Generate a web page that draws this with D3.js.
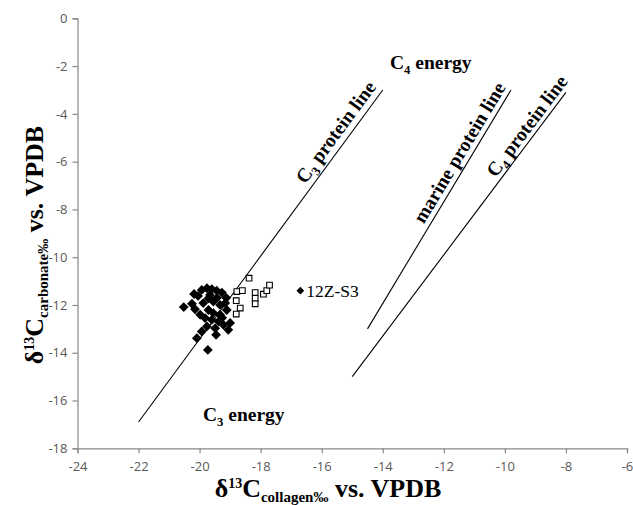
<!DOCTYPE html>
<html><head><meta charset="utf-8">
<script src="https://cdn.jsdelivr.net/npm/d3@7"></script>
<style>body{margin:0;background:#fff}svg{display:block}</style>
</head><body>
<svg id="c" width="633" height="505"></svg>
<script>
// ---- data ----
const xTicks = [-24,-22,-20,-18,-16,-14,-12,-10,-8,-6];
const yTicks = [0,-2,-4,-6,-8,-10,-12,-14,-16,-18];
// filled diamonds (collagen, carbonate)
const diamondX = [-20.52,-20.18,-20.15,-19.93,-19.76,-19.60,-19.44,-19.27,-19.71,-19.88,-19.55,-19.33,-19.16,-19.11,-19.71,-19.55,-19.33,-19.82,-19.60,-19.38,-19.76,-19.49,-19.22,-19.06,-19.93,-20.09,-19.46,-19.73,-20.05,-19.66,-19.43,-19.98,-19.26,-19.00,-20.25,-19.13];
const diamondY = [-12.09,-11.54,-12.18,-11.37,-11.30,-11.34,-11.40,-11.48,-11.72,-11.92,-11.86,-12.00,-11.92,-12.21,-12.21,-12.34,-12.41,-12.55,-12.62,-12.69,-12.90,-12.97,-12.83,-13.04,-13.11,-13.39,-13.25,-13.88,-11.62,-11.58,-11.70,-12.41,-12.54,-12.75,-11.95,-11.70];
// open squares
const squareX = [-18.38,-18.78,-18.60,-18.18,-18.18,-18.18,-17.91,-17.80,-17.71,-18.80,-18.67,-18.80];
const squareY = [-10.88,-11.44,-11.40,-11.48,-11.72,-11.95,-11.55,-11.40,-11.17,-11.82,-12.13,-12.38];
// outlier
const outlierName = "12Z-S3";
const outlierX = [-16.70];
const outlierY = [-11.40];
// reference lines
const lineNames = ["C3 protein line","marine protein line","C4 protein line"];
const lineX1 = [-22.0,-14.5,-15.0];
const lineY1 = [-16.9,-13.0,-15.0];
const lineX2 = [-14.0,-9.8,-8.0];
const lineY2 = [-3.0,-3.0,-3.1];

// ---- drawing ----
const svg = d3.select("#c");
const x = d3.scaleLinear().domain([-24,-6]).range([77.5,627]);
const y = d3.scaleLinear().domain([-18,0]).range([448.3,18.3]);
const axisCol = "#898989", tickCol = "#595959";
const serif = "'Liberation Serif','Times New Roman',serif";

const gx = svg.append("g").attr("transform",`translate(0,${y(-18)})`)
  .call(d3.axisBottom(x).tickValues(xTicks).tickSize(5).tickPadding(8).tickFormat(d=>String(d)));
const gy = svg.append("g").attr("transform",`translate(${x(-24)},0)`)
  .call(d3.axisLeft(y).tickValues(yTicks).tickSize(5).tickPadding(5).tickFormat(d=>String(d)));
[gx,gy].forEach(g=>{
  g.select(".domain").attr("stroke",axisCol).attr("stroke-width",1.2);
  g.selectAll(".tick line").attr("stroke",axisCol).attr("stroke-width",1.2);
  g.selectAll(".tick text").attr("fill",tickCol).style("font-family","'Open Sans',Arial,sans-serif").style("font-size","13px");
});

// reference lines
const lines = lineNames.map((n,i)=>({n,x1:lineX1[i],y1:lineY1[i],x2:lineX2[i],y2:lineY2[i]}));
svg.append("g").selectAll("line").data(lines).join("line")
  .attr("x1",d=>x(d.x1)).attr("y1",d=>y(d.y1)).attr("x2",d=>x(d.x2)).attr("y2",d=>y(d.y2))
  .attr("stroke","#000").attr("stroke-width",1.1);

// line labels (rotated)
const lblPos = [[341,136],[465,156],[532,130]];
const lblG = svg.append("g").style("font-family",serif).style("font-weight","bold").style("font-size","19.5px");
lines.forEach((d,i)=>{
  const ang = Math.atan2(y(d.y2)-y(d.y1), x(d.x2)-x(d.x1))*180/Math.PI;
  const t = lblG.append("text").attr("text-anchor","middle")
    .attr("transform",`translate(${lblPos[i][0]},${lblPos[i][1]}) rotate(${ang})`);
  if(d.n.startsWith("C3")||d.n.startsWith("C4")){
    t.append("tspan").text("C");
    t.append("tspan").attr("dy",5).style("font-size","13px").text(d.n[1]);
    t.append("tspan").attr("dy",-5).text(d.n.slice(2));
  } else t.text(d.n);
});

// energy labels
function subLabel(px,py,main,sub,rest,size){
  const t = svg.append("text").attr("x",px).attr("y",py)
    .style("font-family",serif).style("font-weight","bold").style("font-size",size+"px");
  t.append("tspan").text(main);
  t.append("tspan").attr("dy",5).style("font-size",(size*0.65)+"px").text(sub);
  t.append("tspan").attr("dy",-5).text(rest);
  return t;
}
subLabel(390,69,"C","4"," energy",19.5);
subLabel(203,421,"C","3"," energy",19.5);

// data marks
const diamonds = diamondX.map((v,i)=>({x:v,y:diamondY[i]}));
const squares = squareX.map((v,i)=>({x:v,y:squareY[i]}));
const diamondPath = d3.symbol().type(d3.symbolSquare).size(48)();
const squarePath = d3.symbol().type(d3.symbolSquare).size(32)();
svg.append("g").selectAll("path").data(squares).join("path")
  .attr("d",squarePath).attr("transform",d=>`translate(${x(d.x)},${y(d.y)})`)
  .attr("fill","#fff").attr("stroke","#000").attr("stroke-width",1.1);
svg.append("g").selectAll("path").data(diamonds).join("path")
  .attr("d",diamondPath).attr("transform",d=>`translate(${x(d.x)},${y(d.y)}) rotate(45)`)
  .attr("fill","#000");
const outlier = outlierX.map((v,i)=>({x:v,y:outlierY[i]}));
svg.append("g").selectAll("path").data(outlier).join("path")
  .attr("d",d3.symbol().type(d3.symbolSquare).size(30)()).attr("transform",d=>`translate(${x(d.x)},${y(d.y)}) rotate(45)`)
  .attr("fill","#000");
svg.append("text").attr("x",x(outlierX[0])+6).attr("y",y(outlierY[0])+6)
  .style("font-family",serif).style("font-size","17.5px").text(outlierName);

// axis titles
function title(t, subText){
  t.style("font-family",serif).style("font-weight","bold").style("font-size","26px");
  t.append("tspan").text("δ");
  t.append("tspan").attr("dy",-9).style("font-size","14px").text("13");
  t.append("tspan").attr("dy",9).text("C");
  t.append("tspan").attr("dy",5).style("font-size","15px").text(subText);
  t.append("tspan").attr("dy",-5).text(" vs. VPDB");
}
title(svg.append("text").attr("x",328).attr("y",497).attr("text-anchor","middle"),"collagen‰");
title(svg.append("text").attr("transform","translate(43,245) rotate(-90)").attr("text-anchor","middle"),"carbonate‰");
</script>
</body></html>
